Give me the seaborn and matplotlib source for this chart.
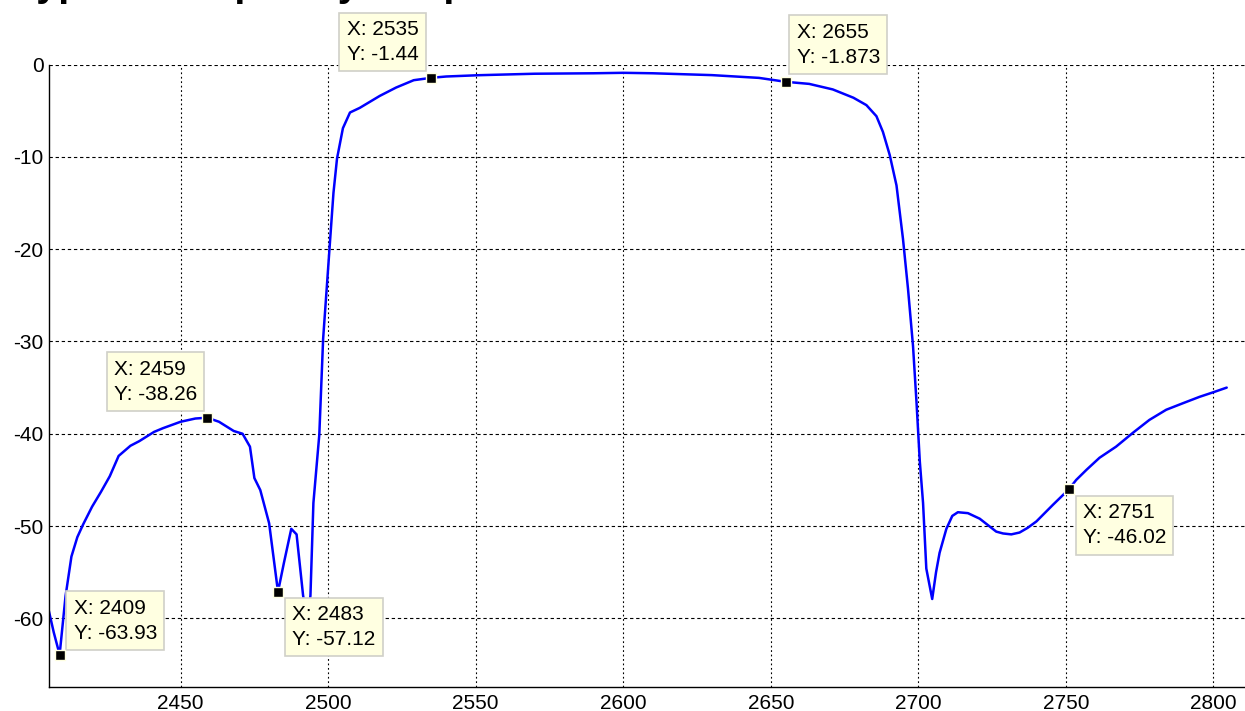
import matplotlib
matplotlib.use("Agg")
import matplotlib.pyplot as plt
import seaborn as sns
import pandas as pd

# ---- data ----
freq = [2405, 2407, 2409, 2411, 2413, 2415, 2417, 2420, 2423, 2426, 2429, 2433,
        2436, 2441, 2444, 2450, 2455, 2459, 2463, 2468, 2471, 2473.5, 2475, 2477,
        2480, 2483, 2485, 2487.5, 2489.3, 2491.5, 2493, 2494, 2495, 2497, 2498.3,
        2499.5, 2500.6, 2501.8, 2503, 2505, 2507.4, 2510.7, 2517.5, 2523, 2529,
        2535, 2540, 2551, 2570, 2590, 2600, 2610, 2630, 2646, 2655, 2663, 2671,
        2678, 2682.4, 2685.8, 2688, 2690.3, 2692.6, 2694.8, 2696.5, 2698.2, 2699.4,
        2700.5, 2701.6, 2702.7, 2704.7, 2706, 2707.2, 2709.5, 2711.5, 2713.4,
        2716.8, 2720.8, 2724, 2726.4, 2728.7, 2731.5, 2734.3, 2737, 2740, 2745.6,
        2751, 2753.5, 2757, 2761.4, 2767, 2772.7, 2778.3, 2784, 2789.6, 2795.3,
        2800, 2804.5]
gain = [-58.7, -61.5, -63.93, -57.6, -53.3, -51.2, -49.8, -47.9, -46.3, -44.6,
        -42.4, -41.3, -40.8, -39.8, -39.4, -38.7, -38.35, -38.26, -38.7, -39.7,
        -40.0, -41.4, -44.8, -46.1, -49.7, -57.12, -54.0, -50.3, -50.9, -57.5,
        -60.5, -57.5, -47.5, -40.1, -29.7, -24.3, -19.3, -13.9, -10.2, -6.9, -5.2,
        -4.7, -3.4, -2.5, -1.7, -1.44, -1.3, -1.16, -1.0, -0.95, -0.9, -0.95,
        -1.15, -1.45, -1.873, -2.1, -2.7, -3.6, -4.4, -5.6, -7.3, -9.8, -13.1,
        -18.9, -24.3, -30.5, -36.7, -43.0, -47.5, -54.6, -57.9, -55.0, -52.9,
        -50.3, -48.9, -48.5, -48.6, -49.2, -50.0, -50.6, -50.8, -50.9, -50.7,
        -50.2, -49.5, -47.7, -46.02, -45.0, -43.9, -42.6, -41.4, -39.9, -38.5,
        -37.4, -36.7, -36.0, -35.5, -35.0]

tip_x = [2409, 2459, 2483, 2535, 2655, 2751]
tip_y = [-63.93, -38.26, -57.12, -1.44, -1.873, -46.02]
tip_text = ["X: 2409\nY: -63.93", "X: 2459\nY: -38.26", "X: 2483\nY: -57.12",
            "X: 2535\nY: -1.44", "X: 2655\nY: -1.873", "X: 2751\nY: -46.02"]

x_ticks = [2450, 2500, 2550, 2600, 2650, 2700, 2750, 2800]
y_ticks = [-60, -50, -40, -30, -20, -10, 0]
title = "Typical Frequency Response"

# ---- style ----
sns.set_theme(style="white")
plt.rcParams["font.family"] = ["Liberation Sans", "DejaVu Sans"]
plt.rcParams["axes.unicode_minus"] = False

fig = plt.figure(figsize=(12.45, 7.11), dpi=100)
ax = fig.add_axes([49 / 1245, 1 - 686.7 / 711, (1245 - 49) / 1245, (686.7 - 64.5) / 711])

df = pd.DataFrame({"freq": freq, "gain": gain})
sns.lineplot(data=df, x="freq", y="gain", ax=ax, color="#0000FF", linewidth=1.8,
             estimator=None, sort=False, zorder=2)

tips = pd.DataFrame({"x": tip_x, "y": tip_y})
sns.scatterplot(data=tips, x="x", y="y", ax=ax, marker="s", s=55, color="black",
                edgecolor="#FFFFE1", linewidth=1.0, zorder=6, clip_on=False)

# datatip boxes: (dx, dy) offset in pixels, ha, va
offsets = {
    2409: (14, 12, "left", "bottom"),
    2459: (-10, 14, "right", "bottom"),
    2483: (14, -13, "left", "top"),
    2535: (-13, 14, "right", "bottom"),
    2655: (11, 15, "left", "bottom"),
    2751: (14, -14, "left", "top"),
}
for xv, yv, t in zip(tip_x, tip_y, tip_text):
    dx, dy, ha, va = offsets[xv]
    ax.annotate(t, xy=(xv, yv), xytext=(dx, dy), textcoords="offset pixels",
                ha=ha, va=va, multialignment="left", fontsize=15, color="black",
                linespacing=1.4, annotation_clip=False, zorder=5,
                bbox=dict(boxstyle="square,pad=0.35", facecolor="#FFFFE1",
                          edgecolor="#D0D0C8", linewidth=1.2))

ax.set_xlim(2405.4, 2810.7)
ax.set_ylim(-67.4, 0)
ax.set_xticks(x_ticks)
ax.set_yticks(y_ticks)
ax.set_xlabel("")
ax.set_ylabel("")

# grid: horizontal dashed, vertical dotted
for yv in y_ticks:
    ax.axhline(yv, color="black", linewidth=0.8, linestyle=(0, (3, 2.5)), zorder=1)
for xv in x_ticks:
    ax.axvline(xv, color="black", linewidth=0.8, linestyle=(0, (1.6, 2.4)), zorder=1)

for s in ["top", "right"]:
    ax.spines[s].set_visible(False)
for s in ["left", "bottom"]:
    ax.spines[s].set_color("black")
    ax.spines[s].set_linewidth(1.0)

ax.tick_params(axis="both", direction="in", length=7, width=0.9, color="black",
               labelsize=15, labelcolor="black")
ax.tick_params(axis="x", pad=5)
ax.tick_params(axis="y", pad=4)

fig.text(0.012, 1.006, title, fontsize=28.5, fontweight="bold", ha="left",
         va="baseline", color="black")

fig.savefig("out.png", dpi=100)
